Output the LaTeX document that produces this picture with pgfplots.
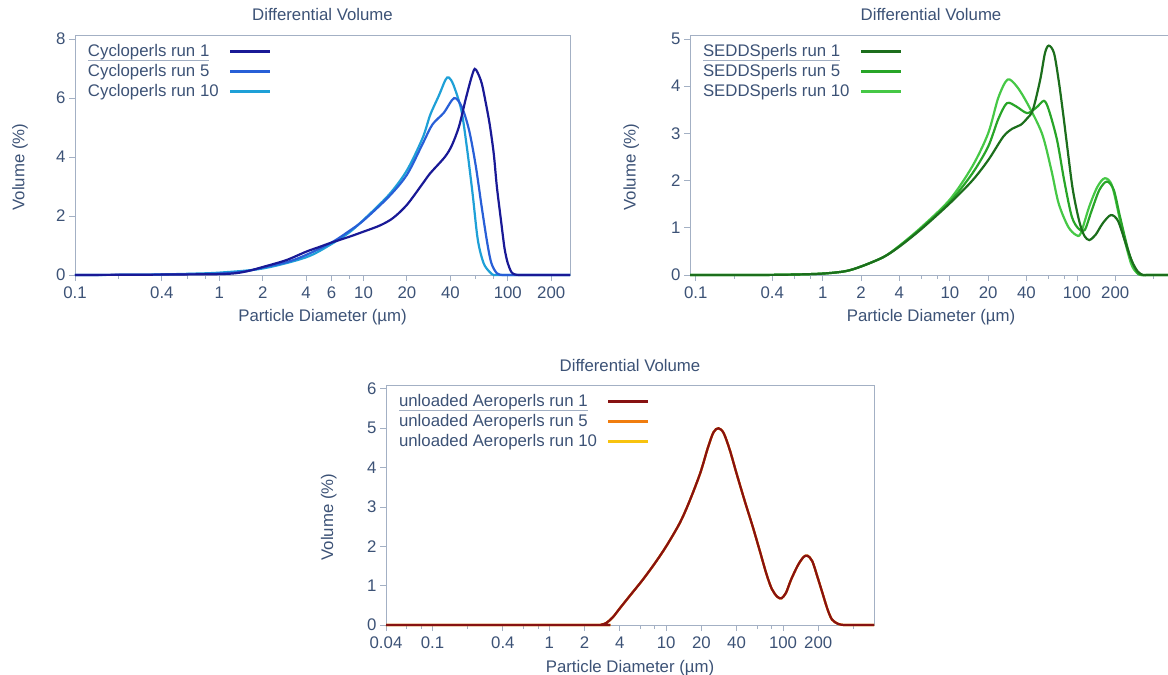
\documentclass[border=0pt]{standalone}
\usepackage{fontspec}
\setmainfont{Liberation Sans}
\usepackage{pgfplots}
\pgfplotsset{compat=1.18}
\definecolor{axl}{RGB}{163,176,196}
\definecolor{txt}{RGB}{60,82,118}
\definecolor{cA}{RGB}{25,25,150}
\definecolor{cB}{RGB}{40,95,215}
\definecolor{cC}{RGB}{30,160,215}
\definecolor{gA}{RGB}{28,110,28}
\definecolor{gB}{RGB}{40,165,40}
\definecolor{gC}{RGB}{70,200,70}
\definecolor{rA}{RGB}{135,18,18}
\definecolor{rB}{RGB}{240,125,15}
\definecolor{rC}{RGB}{248,195,15}
\newcommand{\tfont}{\fontsize{16.8}{20}\selectfont}
\newcommand{\ulentry}[1]{\setbox0=\hbox{#1}\rlap{\color{axl}\rule[-4.5pt]{\wd0}{0.9pt}}\box0}
\pgfplotsset{
  psd/.style={
    scale only axis, height=240pt,
    ymin=0, clip=false,
    axis line style={axl, line width=0.9pt},
    every tick/.style={axl, line width=0.9pt},
    major tick length=6pt, tick align=outside,
    xtick pos=bottom, ytick pos=left,
    tick label style={font=\tfont, color=txt},
    xticklabel style={yshift=-2pt},
    /pgf/number format/assume math mode=true,
    title style={font=\tfont, color=txt, at={(axis description cs:0.5,1)}, anchor=base, yshift=8pt},
    xlabel style={font=\tfont, color=txt, at={(axis description cs:0.5,0)}, anchor=base, yshift=-47pt},
    title={Differential Volume},
    xlabel={Particle Diameter (µm)},
    ylabel={Volume (\%)},
    extra x tick labels={},
    extra x tick style={major tick length=4pt},
    legend cell align=left, legend plot pos=right, reverse legend,
    legend style={draw=none, fill=none, at={(axis description cs:0,1)}, anchor=north west,
      xshift=13pt, yshift=-8.2pt, inner sep=0pt, outer sep=0pt, row sep=3.5pt, column sep=10pt,
      nodes={font=\tfont, color=txt, inner sep=0pt, text height=13.5pt, text depth=3pt}},
    legend image code/.code={\draw[#1, line width=2.6pt] (0pt,0pt) -- (40pt,0pt);},
    every axis plot/.append style={line width=2.2pt, smooth},
  }
}
\begin{document}
\begin{tikzpicture}
\path[use as bounding box] (0,0) rectangle (1168pt,675pt);
% ---------------- top left
\begin{axis}[xmode=log, log basis x=10, psd, at={(75pt,400pt)}, anchor=south west, width=495pt,
  xmin=0.1, xmax=270, ymax=8.14,
  ytick={0,2,4,6,8},
  xtick={0.1,0.4,1,2,4,6,10,20,40,100,200},
  xticklabels={0.1,0.4,1,2,4,6,10,20,40,100,200},
  extra x ticks={0.2,0.6,0.8,8,60,80},
  ylabel style={font=\tfont, color=txt, at={(axis description cs:-0.111,0.45)}, anchor=center},
]
\addplot[cC] coordinates {(0.1,0) (0.3,0.01) (0.6,0.04) (1,0.08) (2,0.22) (4,0.6) (6,1.05) (8,1.45) (10,1.87) (15,2.72) (20,3.55) (25.7,4.65) (29,5.43) (33.4,6.1) (37,6.62) (39,6.7) (42,6.45) (47.6,5.6) (52,4.35) (57,2.77) (62,1.19) (68,0.4) (75,0.1) (80,0) (90,0) (270,0)};
\addlegendentry{Cycloperls run 10}
\addplot[cB] coordinates {(0.1,0) (0.3,0.01) (0.6,0.03) (1,0.05) (1.5,0.12) (2,0.25) (3,0.45) (4,0.68) (6,1.1) (8,1.5) (10,1.85) (15,2.66) (20,3.4) (25.7,4.45) (30,5.1) (36,5.5) (42.5,6.0) (48,5.7) (54,4.9) (60,3.7) (66,2.3) (72,1.1) (77,0.4) (84,0.06) (92,0) (105,0) (270,0)};
\addlegendentry{Cycloperls run 5}
\addplot[cA] coordinates {(0.1,0) (0.3,0.01) (0.6,0.02) (1,0.03) (1.3,0.06) (1.6,0.14) (2,0.27) (2.9,0.5) (4,0.79) (5,0.96) (6,1.1) (8,1.3) (10,1.47) (13,1.68) (16,1.93) (20,2.38) (25.7,3.1) (29,3.45) (36.6,4.0) (41,4.4) (46,5.05) (51,5.95) (56,6.7) (59,6.99) (62,6.85) (66,6.5) (70,5.9) (75,5.1) (80,4.1) (84,3.0) (90,1.8) (95,0.9) (100,0.4) (106,0.1) (112,0.02) (120,0) (135,0) (270,0)};
\addlegendentry{\ulentry{Cycloperls run 1}}
\end{axis}
% ---------------- top right
\begin{axis}[xmode=log, log basis x=10, psd, at={(690pt,400pt)}, anchor=south west, width=482pt,
  xmin=0.09, xmax=560, ymax=5.085,
  ytick={0,1,2,3,4,5},
  xtick={0.1,0.4,1,2,4,10,20,40,100,200},
  xticklabels={0.1,0.4,1,2,4,10,20,40,100,200},
  extra x ticks={0.2,0.6,0.8,6,8,60,80,400},
  ylabel style={font=\tfont, color=txt, at={(axis description cs:-0.122,0.45)}, anchor=center},
]
\addplot[gC] coordinates {(0.09,0) (0.3,0) (0.6,0.01) (1,0.03) (1.5,0.08) (2,0.18) (3,0.38) (4,0.62) (6,1.02) (10,1.6) (15,2.3) (20,3.0) (24,3.75) (28.4,4.14) (33.5,4.0) (40.6,3.64) (53,3.0) (62.8,2.23) (71.7,1.52) (85,1.03) (98,0.85) (107,0.88) (125,1.45) (145,1.87) (166,2.05) (190,1.87) (227,0.95) (266,0.25) (295,0.05) (320,0) (360,0) (560,0)};
\addlegendentry{SEDDSperls run 10}
\addplot[gB] coordinates {(0.09,0) (0.3,0) (0.6,0.01) (1,0.03) (1.5,0.08) (2,0.18) (3,0.38) (4,0.61) (6,1.0) (10,1.55) (15,2.15) (20,2.72) (24,3.3) (28.1,3.64) (33.3,3.57) (40.6,3.43) (48,3.55) (55,3.69) (60,3.5) (69.7,2.86) (79.4,2.0) (91,1.24) (103,0.98) (115,0.95) (130,1.35) (150,1.8) (172,1.98) (195,1.8) (218,1.24) (257,0.46) (295,0.07) (320,0) (360,0) (560,0)};
\addlegendentry{SEDDSperls run 5}
\addplot[gA] coordinates {(0.09,0) (0.3,0) (0.6,0.01) (1,0.03) (1.5,0.08) (2,0.18) (3,0.38) (4,0.6) (6,0.98) (10,1.52) (15,2.0) (20.1,2.44) (26.3,2.93) (31,3.1) (36,3.18) (40.6,3.32) (45,3.5) (51.4,4.14) (56,4.7) (60,4.86) (66,4.7) (72,4.1) (78,3.4) (84,2.7) (92,1.87) (100,1.35) (107,1.03) (115,0.82) (125,0.74) (140,0.85) (160,1.1) (185,1.27) (210,1.15) (240,0.7) (270,0.3) (300,0.08) (330,0) (370,0) (560,0)};
\addlegendentry{\ulentry{SEDDSperls run 1}}
\end{axis}
% ---------------- bottom
\begin{axis}[xmode=log, log basis x=10, psd, at={(386pt,50pt)}, anchor=south west, width=488pt,
  xmin=0.04, xmax=600, ymax=6.1,
  ytick={0,1,2,3,4,5,6},
  xtick={0.04,0.1,0.4,1,2,4,10,20,40,100,200},
  xticklabels={0.04,0.1,0.4,1,2,4,10,20,40,100,200},
  extra x ticks={0.06,0.08,0.2,0.6,0.8,6,8,60,80,400},
  ylabel style={font=\tfont, color=txt, at={(axis description cs:-0.117,0.45)}, anchor=center},
]
\addplot[rC] coordinates {(0.04,0) (2.5,0) (2.8,0.01) (3.1,0.06) (3.5,0.2) (4,0.42) (5,0.78) (6.3,1.15) (8,1.57) (10,2.0) (13,2.58) (15.6,3.1) (19.5,3.85) (22.7,4.5) (25.4,4.9) (28,5.0) (31,4.88) (35,4.45) (40,3.85) (47,3.15) (55,2.5) (63,1.9) (72,1.3) (80,0.92) (89,0.72) (97,0.68) (106,0.82) (117,1.15) (134,1.52) (150,1.73) (162,1.76) (178,1.62) (198,1.2) (219,0.78) (240,0.4) (262,0.14) (295,0.03) (330,0) (380,0) (600,0)};
\addlegendentry{unloaded Aeroperls run 10}
\addplot[rB] coordinates {(0.04,0) (2.5,0) (2.8,0.01) (3.1,0.06) (3.5,0.2) (4,0.42) (5,0.78) (6.3,1.15) (8,1.57) (10,2.0) (13,2.58) (15.6,3.1) (19.5,3.85) (22.7,4.5) (25.4,4.9) (28,5.0) (31,4.88) (35,4.45) (40,3.85) (47,3.15) (55,2.5) (63,1.9) (72,1.3) (80,0.92) (89,0.72) (97,0.68) (106,0.82) (117,1.15) (134,1.52) (150,1.73) (162,1.76) (178,1.62) (198,1.2) (219,0.78) (240,0.4) (262,0.14) (295,0.03) (330,0) (380,0) (600,0)};
\addlegendentry{unloaded Aeroperls run 5}
\addplot[rA] coordinates {(0.04,0) (2.5,0) (2.8,0.01) (3.1,0.06) (3.5,0.2) (4,0.42) (5,0.78) (6.3,1.15) (8,1.57) (10,2.0) (13,2.58) (15.6,3.1) (19.5,3.85) (22.7,4.5) (25.4,4.9) (28,5.0) (31,4.88) (35,4.45) (40,3.85) (47,3.15) (55,2.5) (63,1.9) (72,1.3) (80,0.92) (89,0.72) (97,0.68) (106,0.82) (117,1.15) (134,1.52) (150,1.73) (162,1.76) (178,1.62) (198,1.2) (219,0.78) (240,0.4) (262,0.14) (295,0.03) (330,0) (380,0) (600,0)};
\addlegendentry{\ulentry{unloaded Aeroperls run 1}}
\end{axis}
\end{tikzpicture}
\end{document}
